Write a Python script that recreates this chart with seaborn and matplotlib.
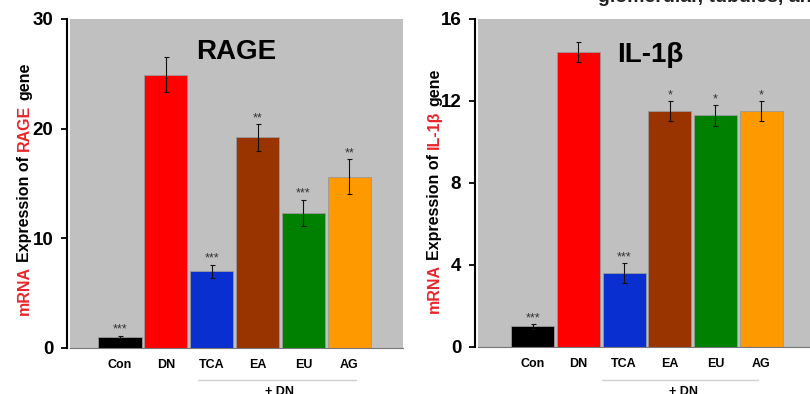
import matplotlib
matplotlib.use("Agg")
import matplotlib.pyplot as plt
import matplotlib.transforms as mtransforms
import seaborn as sns
import pandas as pd

# data
groups = ["Con", "DN", "TCA", "EA", "EU", "AG"]
bar_colors = ["#000000", "#ff0000", "#0a2fd0", "#993300", "#008000", "#ff9900"]

rage_mean = [1.0, 24.9, 7.0, 19.2, 12.3, 15.6]
rage_err = [0.1, 1.6, 0.6, 1.2, 1.2, 1.6]
rage_stars = ["***", "", "***", "**", "***", "**"]

il1b_mean = [1.0, 14.4, 3.6, 11.5, 11.3, 11.5]
il1b_err = [0.1, 0.5, 0.5, 0.5, 0.5, 0.5]
il1b_stars = ["***", "", "***", "*", "*", "*"]

sns.set_style("ticks")
plt.rcParams["font.family"] = ["Liberation Sans", "DejaVu Sans"]
plt.rcParams["text.color"] = "black"
plt.rcParams["xtick.color"] = "black"
plt.rcParams["ytick.color"] = "black"

fig = plt.figure(figsize=(8.1, 3.94), dpi=100)
ax1 = fig.add_axes([0.0864, 0.1168, 0.411, 0.835])
ax2 = fig.add_axes([0.590, 0.1193, 0.410, 0.8325])


def draw_panel(ax, means, errs, stars, ymax, ticks, title, title_xy, xlim, dn_line, dn_x):
    df = pd.DataFrame({"group": groups, "value": means})
    sns.barplot(data=df, x="group", y="value", hue="group", order=groups,
                palette=bar_colors, saturation=1, width=0.94, legend=False, ax=ax,
                edgecolor="#9a9a9a", linewidth=0.6, errorbar=None)
    ax.errorbar(range(len(groups)), means, yerr=errs, fmt="none",
                ecolor="#111111", elinewidth=0.8, capsize=1.8, capthick=0.8)
    for i, (m, e, s) in enumerate(zip(means, errs, stars)):
        if s:
            ax.annotate(s, (i, m + e), xytext=(0, 0), textcoords="offset points",
                        ha="center", va="bottom", fontsize=9, color="#333333")
    ax.set_facecolor("#c0c0c0")
    ax.set_xlim(*xlim)
    ax.set_ylim(0, ymax)
    ax.set_xlabel("")
    ax.set_ylabel("")
    sns.despine(ax=ax)
    # spine position resets the ticks, so style the tick labels after it
    ax.spines["left"].set_position(("outward", 2))
    ax.spines["left"].set_linewidth(1.5)
    ax.spines["left"].set_color("black")
    ax.spines["bottom"].set_color("#777777")
    ax.spines["bottom"].set_linewidth(0.8)
    ax.set_yticks(ticks)
    ax.set_yticklabels([str(t) for t in ticks], fontsize=13.5, fontweight="bold")
    ax.tick_params(axis="y", length=4, width=1.3, pad=6, direction="out")
    ax.tick_params(axis="x", length=0, pad=8)
    for lab in ax.get_xticklabels():
        lab.set_fontsize(9)
        lab.set_fontweight("bold")
    ax.text(title_xy[0], title_xy[1], title, transform=ax.transAxes,
            ha="center", va="center", fontsize=20, fontweight="bold", color="black")
    # "+ DN" bracket under the treated groups
    trans = mtransforms.blended_transform_factory(ax.transData, ax.transAxes)
    ax.plot(dn_line[:2], [dn_line[2], dn_line[2]], transform=trans,
            color="#cfcfcf", lw=1.0, clip_on=False)
    ax.text(dn_x, dn_line[2] - 0.018, "+ DN", transform=trans, ha="center",
            va="top", fontsize=9, fontweight="bold")


draw_panel(ax1, rage_mean, rage_err, rage_stars, 30, [0, 10, 20, 30], "RAGE",
           (0.50, 0.90), (-1.09, 6.17), (1.70, 5.14, -0.097), 3.48)
draw_panel(ax2, il1b_mean, il1b_err, il1b_stars, 16, [0, 4, 8, 12, 16], "IL-1β",
           (0.518, 0.89), (-1.2, 6.07), (1.51, 4.93, -0.100), 3.29)


def multicolor_ylabel(xbase, yc, pieces, size=11.5):
    # pieces share one baseline; each one starts where the previous ended
    fig.canvas.draw()
    r = fig.canvas.get_renderer()
    probe = fig.text(0, 0, "x x", fontsize=size, fontweight="bold")
    probe2 = fig.text(0, 0, "xx", fontsize=size, fontweight="bold")
    gap = probe.get_window_extent(r).width - probe2.get_window_extent(r).width
    probe.remove()
    probe2.remove()
    figh = fig.bbox.height
    lengths = []
    for txt, col in pieces:
        t = fig.text(0, 0, txt, fontsize=size, fontweight="bold")
        lengths.append(t.get_window_extent(r).width)
        t.remove()
    total = sum(lengths) + gap * (len(pieces) - 1)
    y = yc - total / 2 / figh
    for (txt, col), ln in zip(pieces, lengths):
        fig.text(xbase, y, txt, fontsize=size, rotation=90, color=col,
                 rotation_mode="anchor", ha="left", va="baseline", fontweight="bold")
        y += (ln + gap) / figh


red = "#e8262b"
multicolor_ylabel(29 / 810, 1 - 189 / 394,
                  [("mRNA", red), ("Expression of", "black"), ("RAGE", red), ("gene", "black")])
multicolor_ylabel(439 / 810, 1 - 191 / 394,
                  [("mRNA", red), ("Expression of", "black"), ("IL-1β", red), ("gene", "black")])

# clipped caption text at the top edge of the crop
fig.text(598 / 810, 1 - 2 / 394, "glomerular, tubules, and", fontsize=14,
         fontweight="bold", color="#222222", va="baseline", ha="left")

fig.savefig("out.png", dpi=100)
